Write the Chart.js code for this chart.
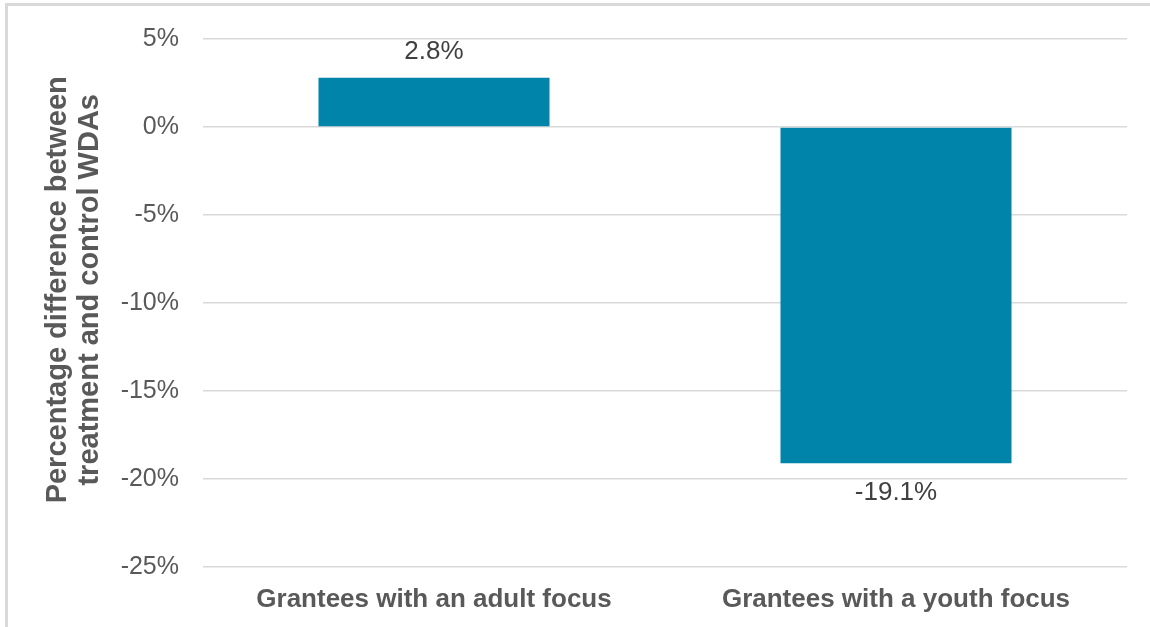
<!DOCTYPE html>
<html>
<head>
<meta charset="utf-8">
<script src="https://cdn.jsdelivr.net/npm/chart.js@4/dist/chart.umd.min.js"></script>
<style>
  html, body { margin: 0; padding: 0; background: #fff; }
  #frame {
    position: absolute; left: 5px; top: 3px; width: 1200px; height: 700px;
    border-left: 3px solid #d9d9d9; border-top: 3px solid #d9d9d9;
  }
  #wrap { position: absolute; left: 0; top: 0; width: 1150px; height: 627px; }
</style>
</head>
<body>
<div id="frame"></div>
<div id="wrap"><canvas id="chart"></canvas></div>
<script>
const categories = ["Grantees with an adult focus", "Grantees with a youth focus"];
const differences = [2.8, -19.1];
const yTitleLines = ["Percentage difference between", "treatment and control WDAs"];
const yMin = -25;
const yMax = 5;
const yStep = 5;

const TEXT = "#595959";
const FONT = "'Liberation Sans', Arial, sans-serif";

// value labels above / below each bar
const barLabels = {
  id: "barLabels",
  afterDatasetsDraw(chart) {
    const ctx = chart.ctx;
    const meta = chart.getDatasetMeta(0);
    ctx.save();
    ctx.font = "26px " + FONT;
    ctx.fillStyle = "#404040";
    ctx.textAlign = "center";
    ctx.textBaseline = "middle";
    meta.data.forEach((bar, i) => {
      const v = differences[i];
      const y = v >= 0 ? bar.y - 26 : bar.y + 30;
      ctx.fillText(v.toFixed(1) + "%", bar.x, y);
    });
    ctx.restore();
  },
};

// two-line rotated y axis title
const yTitle = {
  id: "yTitle",
  afterDraw(chart) {
    const ctx = chart.ctx;
    const area = chart.chartArea;
    const cy = area.top + (area.bottom - area.top) * 0.475;
    ctx.save();
    ctx.font = "bold 29px " + FONT;
    ctx.fillStyle = TEXT;
    ctx.textAlign = "center";
    ctx.textBaseline = "middle";
    yTitleLines.forEach((line, i) => {
      ctx.save();
      ctx.translate(58 + i * 32, cy);
      ctx.rotate(-Math.PI / 2);
      ctx.fillText(line, 0, 0);
      ctx.restore();
    });
    ctx.restore();
  },
};

new Chart(document.getElementById("chart"), {
  type: "bar",
  data: {
    labels: categories,
    datasets: [
      {
        data: differences,
        backgroundColor: "#0084a9",
        borderWidth: 0,
        barPercentage: 0.5,
        categoryPercentage: 1,
      },
    ],
  },
  options: {
    responsive: true,
    maintainAspectRatio: false,
    animation: false,
    layout: { padding: { top: 36, right: 23, bottom: 14, left: 0 } },
    plugins: {
      legend: { display: false },
      tooltip: { enabled: false },
    },
    scales: {
      x: {
        afterFit: (scale) => { scale.height = 46; },
        grid: { display: false, drawTicks: false },
        border: { display: false },
        ticks: {
          color: TEXT,
          padding: 17,
          maxRotation: 0,
          font: { family: FONT, size: 26, weight: "bold" },
        },
      },
      y: {
        min: yMin,
        max: yMax,
        afterFit: (scale) => { scale.width = 203; },
        grid: { color: "#d9d9d9", lineWidth: 1.5, drawTicks: false },
        border: { display: false },
        ticks: {
          stepSize: yStep,
          color: TEXT,
          padding: 24,
          font: { family: FONT, size: 25 },
          callback: (v) => v + "%",
        },
      },
    },
  },
  plugins: [barLabels, yTitle],
});
</script>
</body>
</html>
